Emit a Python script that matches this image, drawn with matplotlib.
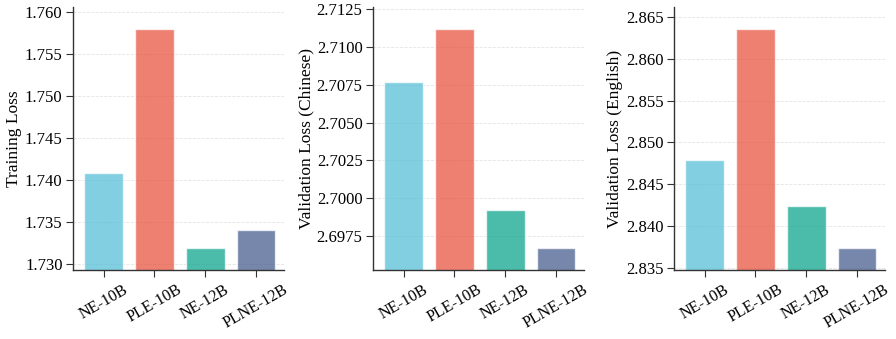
import matplotlib
matplotlib.use("Agg")
import matplotlib.pyplot as plt
import numpy as np

plt.rcParams['font.family'] = ['Liberation Serif', 'DejaVu Serif']

models = ['NE-10B', 'PLE-10B', 'NE-12B', 'PLNE-12B']
train_loss = [1.74088, 1.75798, 1.73194, 1.73403]
val_loss_zh = [2.70769, 2.71118, 2.69920, 2.69671]
val_loss_en = [2.84791, 2.86357, 2.84233, 2.83734]
ylabels = ['Training Loss', 'Validation Loss (Chinese)', 'Validation Loss (English)']
colors = ['#4DBBD5', '#E64B35', '#00A087', '#3C5488']

fig = plt.figure(figsize=(8.96, 3.39), dpi=100)
lefts = [73, 373, 674]
x = np.arange(len(models))

for left, vals, lab in zip(lefts, [train_loss, val_loss_zh, val_loss_en], ylabels):
    ax = fig.add_axes([left / 896, 1 - 270 / 339, 211 / 896, 263 / 339])
    ax.bar(x, vals, width=0.76, color=colors, alpha=0.7, edgecolor='white', linewidth=1)
    rng = max(vals) - min(vals)
    ax.set_ylim(min(vals) - 0.1 * rng, max(vals) + 0.1 * rng)
    ax.set_xlim(-0.6, 3.55)
    ax.set_xticks(x)
    ax.set_xticklabels(models, rotation=30, ha='center', fontsize=11.5)
    ax.tick_params(axis='y', labelsize=12, length=5, color='#333333', pad=2.5)
    ax.tick_params(axis='x', length=5, color='#333333')
    ax.set_ylabel(lab, fontsize=12.5, labelpad=2)
    ax.spines['top'].set_visible(False)
    ax.spines['right'].set_visible(False)
    for s in ['left', 'bottom']:
        ax.spines[s].set_color('#333333')
        ax.spines[s].set_linewidth(1.0)
    ax.yaxis.grid(True, linestyle='--', color='#dddddd', linewidth=0.6, alpha=0.8)
    ax.set_axisbelow(True)

fig.savefig('out.png', dpi=100)
